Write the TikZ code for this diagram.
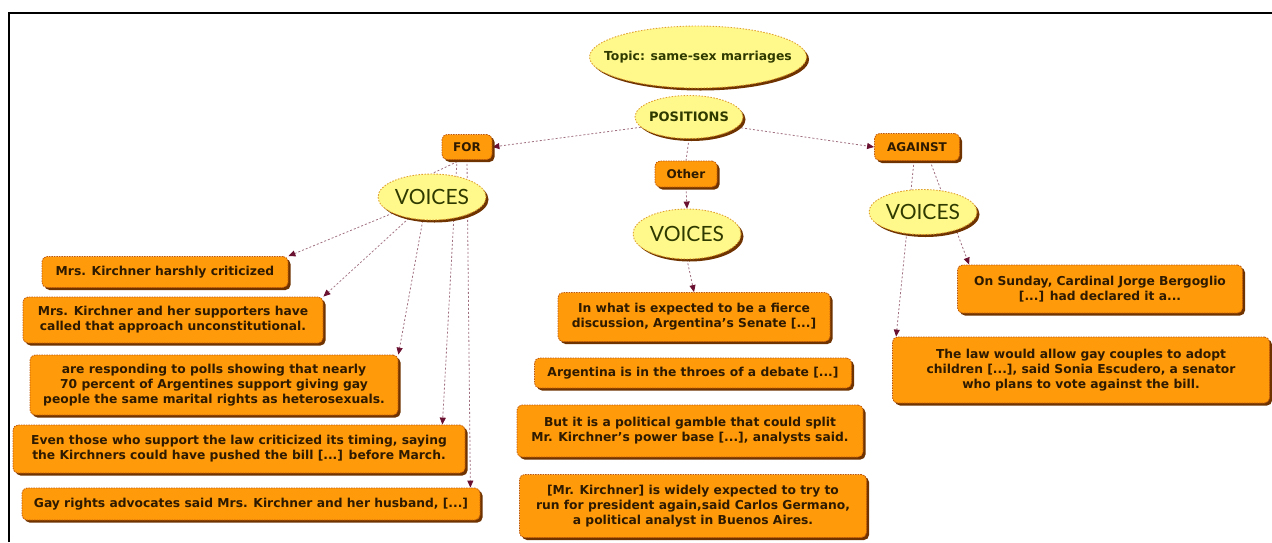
\documentclass[tikz,border=0pt]{standalone}
\usepackage{fontspec}
\setmainfont{DejaVu Sans}
\newfontfamily\voicefont{Lato}
\usetikzlibrary{shapes.geometric,shadows,arrows.meta,calc,backgrounds}
\definecolor{boxfill}{HTML}{FF9A0A}
\definecolor{boxline}{HTML}{C0580A}
\definecolor{shade}{HTML}{6E3300}
\definecolor{ellfill}{HTML}{FFF98C}
\definecolor{elline}{HTML}{E0A030}
\definecolor{connc}{HTML}{A07080}
\definecolor{tipc}{HTML}{6A1030}
\definecolor{boxtext}{HTML}{2E1A00}
\definecolor{elltext}{HTML}{2F3A00}
\tikzset{
  leaf/.style={rectangle, rounded corners=5pt, fill=boxfill, draw=boxline,
    dash pattern=on 1.5pt off 1pt, line width=0.8pt,
    drop shadow={shadow xshift=2.5pt, shadow yshift=-2.5pt, fill=shade, opacity=1},
    align=center, inner sep=0pt, text=boxtext,
    font=\fontsize{12.3}{15}\selectfont\bfseries},
  cat/.style={leaf, font=\fontsize{12}{14}\selectfont\bfseries},
  ell/.style={ellipse, fill=ellfill, draw=elline,
    dash pattern=on 1.5pt off 1.5pt, line width=0.9pt,
    drop shadow={shadow xshift=2.5pt, shadow yshift=-2.5pt, fill=shade, opacity=1},
    inner sep=0pt, text=elltext, align=center},
  voice/.style={ell, minimum width=108pt, minimum height=46pt,
    font=\fontsize{21}{23}\selectfont\voicefont},
  link/.style={draw=connc, dash pattern=on 2pt off 2pt, line width=0.8pt,
    -{Triangle[length=7pt,width=6pt,color=tipc,fill=tipc]}},
  plain/.style={draw=connc, dash pattern=on 2pt off 2pt, line width=0.8pt}
}
\begin{document}
\begin{tikzpicture}[x=1pt,y=-1pt]
\useasboundingbox (0,0) rectangle (1272,542);
\coordinate (fa) at (9,542);
\coordinate (fb) at (9,13);
\coordinate (fc) at (1272,13);
\draw[line width=2pt] (fa) -- (fb) -- (fc);

% ellipses
\node[ell, minimum width=217pt, minimum height=62pt, font=\fontsize{12.4}{14}\selectfont\bfseries] (topic) at (698,57) {\makebox[0pt]{Topic: same-sex marriages}};
\node[ell, minimum width=108pt, minimum height=43pt, font=\fontsize{13}{15}\selectfont\bfseries] (pos) at (689,117) {\makebox[0pt]{POSITIONS}};

% categories
\node[cat, minimum width=50pt, minimum height=25pt] (for) at (467,147) {FOR};
\node[cat, minimum width=62pt, minimum height=26pt] (other) at (686,174) {Other};
\node[cat, minimum width=85pt, minimum height=27pt] (against) at (917,147) {AGAINST};

% left leaves
\node[leaf, minimum width=246pt, minimum height=31pt] (b1) at (165,272) {Mrs. Kirchner harshly criticized};
\node[leaf, minimum width=300pt, minimum height=46pt] (b2) at (173,320) {Mrs. Kirchner and her supporters have\\called that approach unconstitutional.};
\node[leaf, minimum width=368pt, minimum height=60pt] (b3) at (214,385) {are responding to polls showing that nearly\\70 percent of Argentines support giving gay\\people the same marital rights as heterosexuals.};
\node[leaf, minimum width=452pt, minimum height=48pt] (b4) at (239,449) {Even those who support the law criticized its timing, saying\\the Kirchners could have pushed the bill [...] before March.};
\node[leaf, minimum width=458pt, minimum height=32pt] (b5) at (251,504) {Gay rights advocates said Mrs. Kirchner and her husband, [...]};

% middle leaves
\node[leaf, minimum width=272pt, minimum height=49pt] (m1) at (694,317) {In what is expected to be a fierce\\discussion, Argentina's Senate [...]};
\node[leaf, minimum width=317pt, minimum height=30pt] (m2) at (693,373) {Argentina is in the throes of a debate [...]};
\node[leaf, minimum width=346pt, minimum height=52pt] (m3) at (690,431) {But it is a political gamble that could split\\Mr. Kirchner's power base [...], analysts said.};
\node[leaf, minimum width=347pt, minimum height=63pt] (m4) at (693,506) {[Mr. Kirchner] is widely expected to try to\\run for president again,said Carlos Germano,\\a political analyst in Buenos Aires.};

% right leaves
\node[leaf, minimum width=285pt, minimum height=48pt] (r1) at (1100,289) {On Sunday, Cardinal Jorge Bergoglio\\{[...]} had declared it a...};
\node[leaf, minimum width=377pt, minimum height=66pt] (r2) at (1081,370) {The law would allow gay couples to adopt\\children [...], said Sonia Escudero, a senator\\who plans to vote against the bill.};

% voices
\node[voice] (lv) at (432,197) {\makebox[0pt]{VOICES}};
\node[voice, minimum height=50pt] (mv) at (687,234) {\makebox[0pt]{VOICES}};
\node[voice, minimum height=45pt] (rv) at (923,212) {\makebox[0pt]{VOICES}};

\begin{scope}[on background layer]
\draw[link] (pos.192) -- (for.east);
\draw[link] (pos.-12) -- (against.west);
\draw[plain] (pos.south) -- (other.north);
\draw[link] (other.south) -- (mv.north);
\draw[link] (mv.south) -- (m1.north);
\draw[plain] ($(for.south)+(-6,0)$) -- (lv.north);
\draw[link] (lv) -- (b1.north east);
\draw[link] (lv) -- (b2.north east);
\draw[link] ($(lv)+(-5,0)$) -- (b3.north east);
\draw[link] ($(for.south)+(-10,0)$) -- ($(b4.north east)+(-23,0)$);
\draw[link] ($(for.south)+(0,0)$) -- ($(b5.north east)+(-10,0)$);
\draw[link] ($(against.south)+(13,0)$) -- ($(r1.north west)+(12,0)$);
\draw[link] ($(against.south)+(-3,0)$) -- ($(r2.north west)+(4,0)$);
\end{scope}
\end{tikzpicture}
\end{document}
